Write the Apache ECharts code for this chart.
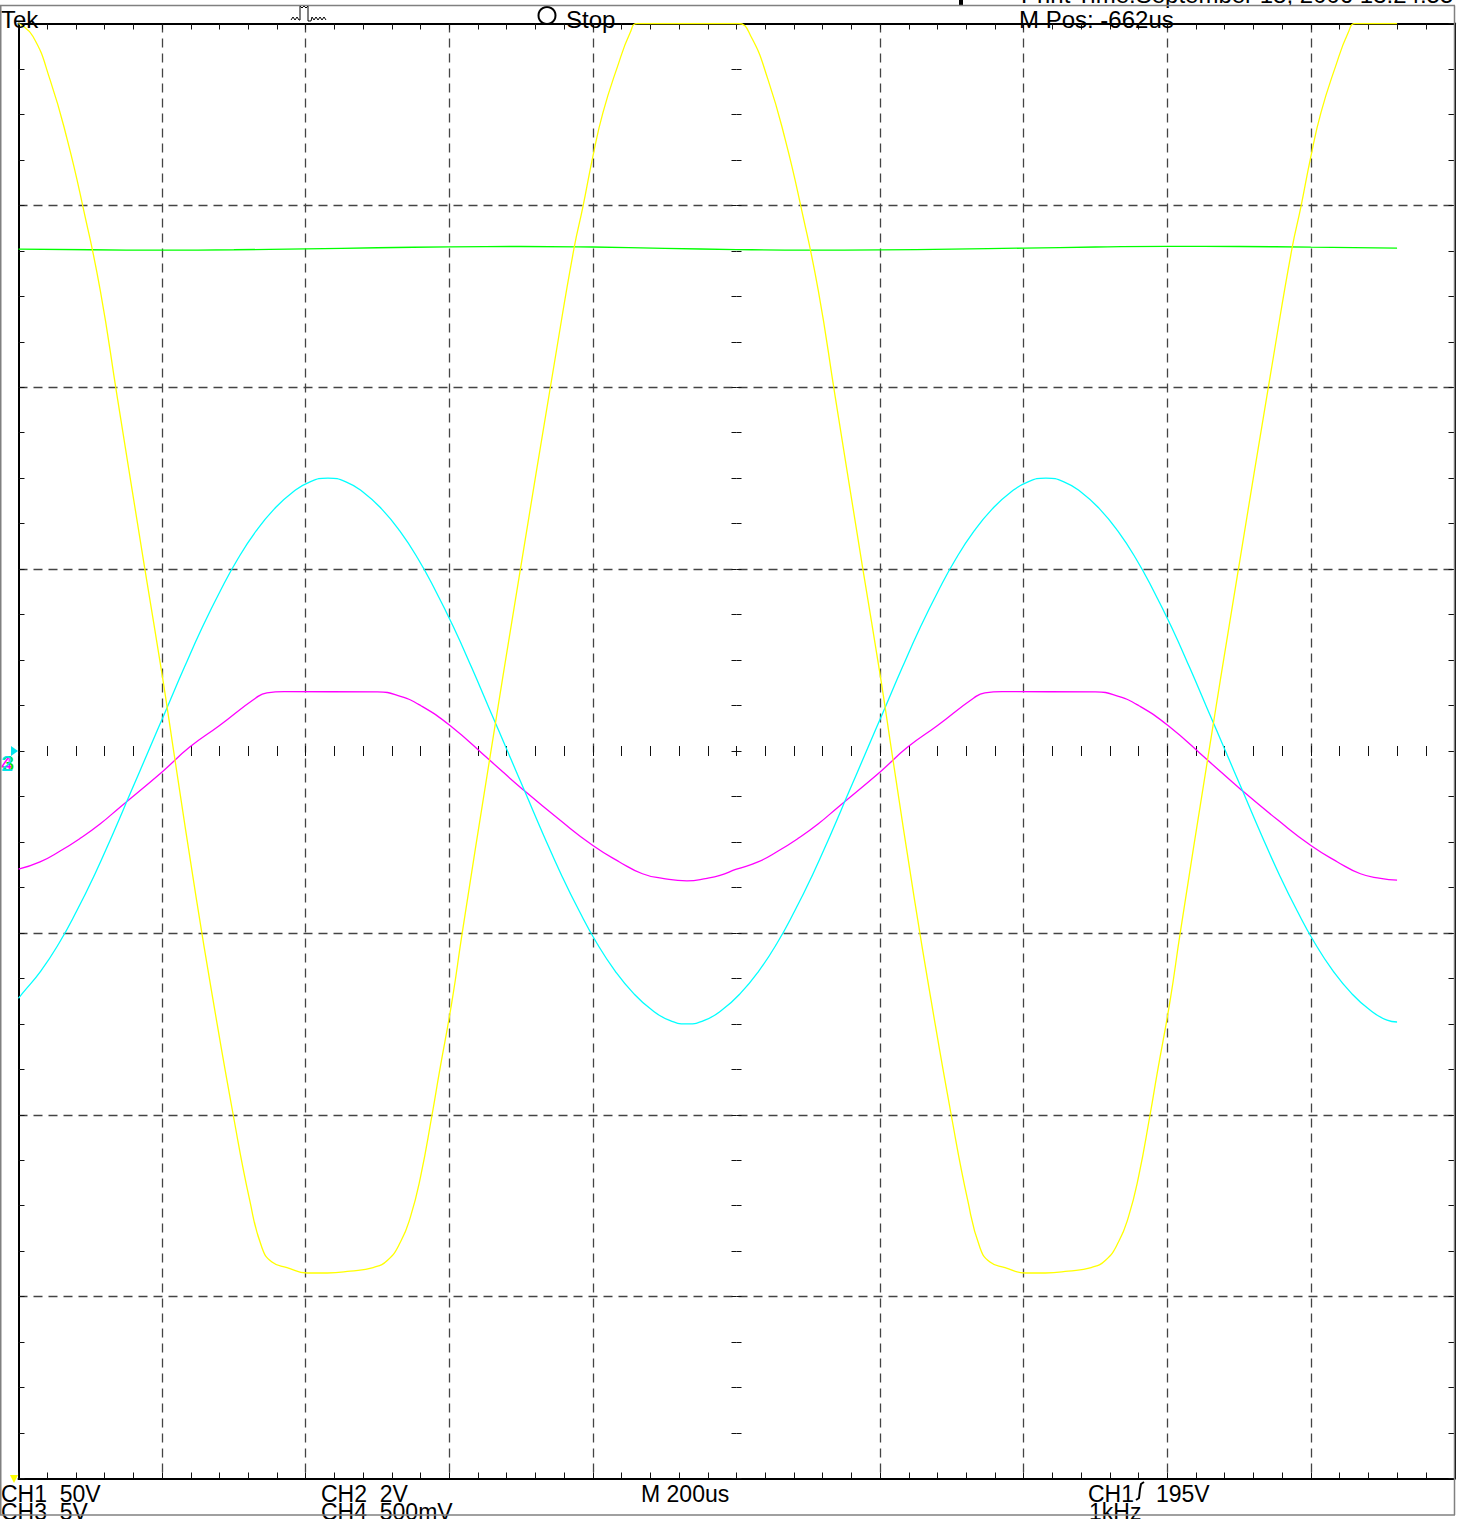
<!DOCTYPE html>
<html>
<head>
<meta charset="utf-8">
<script src="https://cdn.jsdelivr.net/npm/echarts@6/dist/echarts.min.js"></script>
<style>
html,body{margin:0;padding:0;background:#fff;}
#chart{width:1460px;height:1519px;}
</style>
</head>
<body>
<div id="chart"></div>
<script>
// ---------------- DATA (time in µs, amplitude in screen divisions) ----------------
const timeMin = 0, timeMax = 2000, timeStep = 200;   // 200 us / div, 10 div
const divMin = -4, divMax = 4, divStep = 1;           // 8 vertical divisions

const ch1Yellow = [
  [0,4.00],[20,3.93],[44,3.69],[68,3.36],[91,2.97],[114,2.53],[137,1.96],[176,1.00],
  [200,0.42],[218,-0.05],[248,-0.82],[271,-1.37],[299,-2.00],[322,-2.47],[339,-2.73],
  [353,-2.81],[374,-2.84],[402,-2.87],[430,-2.87],[462,-2.86],[494,-2.84],[514,-2.80],
  [532,-2.70],[546,-2.56],[560,-2.34],[576,-2.00],[586,-1.77],[604,-1.37],[618,-1.00],
  [656,-0.05],[692,0.83],[750,2.22],[774,2.77],[786,2.99],[800,3.27],[814,3.51],
  [834,3.76],[852,3.95],[862,4.00],[1002,4.00],[1020,3.93],[1044,3.69],[1068,3.36],
  [1091,2.97],[1114,2.53],[1137,1.96],[1176,1.00],[1200,0.42],[1218,-0.05],[1248,-0.82],
  [1271,-1.37],[1299,-2.00],[1322,-2.47],[1339,-2.73],[1353,-2.81],[1374,-2.84],
  [1402,-2.87],[1430,-2.87],[1462,-2.86],[1494,-2.84],[1514,-2.80],[1532,-2.70],
  [1546,-2.56],[1560,-2.34],[1576,-2.00],[1586,-1.77],[1604,-1.37],[1618,-1.00],
  [1656,-0.05],[1692,0.83],[1750,2.22],[1774,2.77],[1786,2.99],[1800,3.27],[1814,3.51],
  [1834,3.76],[1852,3.95],[1862,4.00],[1920,4.00]
];

const ch2Cyan = [
  [0,-1.36],[6,-1.33],[31,-1.21],[56,-1.06],[81,-0.88],[106,-0.68],[131,-0.46],[156,-0.23],
  [181,0.00],[206,0.23],[231,0.46],[256,0.68],[281,0.88],[306,1.06],[331,1.21],[356,1.33],
  [381,1.42],[406,1.48],[431,1.50],[456,1.48],[481,1.42],[506,1.33],[531,1.21],[556,1.06],
  [581,0.88],[606,0.68],[631,0.46],[656,0.23],[681,0.00],[706,-0.23],[731,-0.46],[756,-0.68],
  [781,-0.88],[806,-1.06],[831,-1.21],[856,-1.33],[881,-1.42],[906,-1.48],[931,-1.50],
  [956,-1.48],[981,-1.42],[1006,-1.33],[1031,-1.21],[1056,-1.06],[1081,-0.88],[1106,-0.68],
  [1131,-0.46],[1156,-0.23],[1181,0.00],[1206,0.23],[1231,0.46],[1256,0.68],[1281,0.88],
  [1306,1.06],[1331,1.21],[1356,1.33],[1381,1.42],[1406,1.48],[1431,1.50],[1456,1.48],
  [1481,1.42],[1506,1.33],[1531,1.21],[1556,1.06],[1581,0.88],[1606,0.68],[1631,0.46],
  [1656,0.23],[1681,0.00],[1706,-0.23],[1731,-0.46],[1756,-0.68],[1781,-0.88],[1806,-1.06],
  [1831,-1.21],[1856,-1.33],[1881,-1.42],[1906,-1.48],[1920,-1.49]
];

const ch3Green = [
  [0,2.760],[100,2.756],[200,2.754],[300,2.756],[400,2.761],[500,2.767],[600,2.772],
  [700,2.774],[800,2.771],[900,2.764],[1000,2.757],[1100,2.754],[1200,2.755],
  [1300,2.759],[1400,2.765],[1500,2.771],[1600,2.775],[1700,2.774],[1800,2.770],
  [1920,2.765]
];

const ch4Magenta = [
  [0,-0.65],[30,-0.61],[58,-0.55],[86,-0.48],[114,-0.40],[141,-0.31],[200,-0.115],
  [238,0.02],[280,0.14],[330,0.29],[346,0.32],[370,0.326],[500,0.325],[532,0.30],
  [560,0.25],[601,0.14],[656,-0.05],[702,-0.21],[754,-0.38],[800,-0.52],[837,-0.61],
  [869,-0.675],[897,-0.70],[931,-0.714],[959,-0.70],[977,-0.684],[1000,-0.65],
  [1030,-0.61],[1058,-0.55],[1086,-0.48],[1114,-0.40],[1141,-0.31],[1200,-0.115],
  [1238,0.02],[1280,0.14],[1330,0.29],[1346,0.32],[1370,0.326],[1500,0.325],[1532,0.30],
  [1560,0.25],[1601,0.14],[1656,-0.05],[1702,-0.21],[1754,-0.38],[1800,-0.52],
  [1837,-0.61],[1869,-0.675],[1897,-0.70],[1920,-0.71]
];

const headerTexts = ['Tek', 'Stop', 'M Pos: -662us', 'Print Time:September 18, 2006 13:24:55'];
const footerTexts = ['CH1  50V', 'CH3  5V', 'CH2  2V', 'CH4  500mV', 'M 200us', 'CH1', '195V', '1kHz'];
const markerTexts = ['4', '3', '2'];

// ---------------- LAYOUT / STYLE ----------------
const G = {left: 18.5, top: 23.5, width: 1436, height: 1455};
const NONE = 'rgba(0,0,0,0)';
const DASH = '#444';
const xSplitColors = [NONE, DASH, DASH, DASH, DASH, NONE, DASH, DASH, DASH, DASH, NONE];
const ySplitColors = [NONE, DASH, DASH, DASH, NONE, DASH, DASH, DASH, NONE];
const FONT = '"Liberation Sans", Arial, sans-serif';

function axis(kind, opts) {
  const isX = kind === 'x';
  return {
    type: 'value',
    min: isX ? timeMin : divMin,
    max: isX ? timeMax : divMax,
    interval: isX ? timeStep : divStep,
    position: opts.position,
    offset: opts.offset || 0,
    axisLabel: {show: false},
    axisLine: {show: !!opts.line, onZero: false, lineStyle: {color: '#000', width: 2}},
    axisTick: {show: true, inside: opts.inside, length: opts.len, lineStyle: {color: '#111', width: 1}},
    minorTick: {show: true, splitNumber: isX ? 5 : 4, length: opts.len, lineStyle: {color: '#111', width: 1}},
    splitLine: opts.split ? {show: true, lineStyle: {color: isX ? xSplitColors : ySplitColors, type: [9, 6], width: 1.3}} : {show: false}
  };
}

const chart = echarts.init(document.getElementById('chart'), null, {renderer: 'svg', width: 1460, height: 1519});

const txt = (text, x, y, size, color) => ({
  type: 'text', x: x, y: y, z: 100,
  style: {text: text, font: size + 'px ' + FONT, fill: color || '#000', verticalAlign: 'middle', align: 'left'}
});
const seg = (x1, y1, x2, y2, color, w) => ({
  type: 'line', z: 101, shape: {x1, y1, x2, y2}, style: {stroke: color, lineWidth: w}
});

const graphics = [
  // header texts
  txt(headerTexts[0], 1, 19.7, 24),
  txt(headerTexts[1], 566, 19.5, 24),
  txt(headerTexts[2], 1019, 19.7, 24),
  txt(headerTexts[3], 1021, -5.5, 24),
  // stop circle
  {type: 'circle', z: 100, shape: {cx: 547, cy: 15.5, r: 8.5}, style: {fill: 'none', stroke: '#000', lineWidth: 2}},
  // trigger icon
  {type: 'polyline', z: 100, shape: {points: [[291,20],[293,17],[295,20],[297,17],[299,20],[300,20],[300,6],[302,8],[304,6],[306,8],[308,6],[308,21],[311,21],[312,17],[314,20],[316,17],[318,20],[320,17],[322,20],[324,17],[326,20]]}, style: {fill: 'none', stroke: '#000', lineWidth: 1}},
  // small bar at top
  {type: 'rect', z: 100, shape: {x: 959, y: 0, width: 4, height: 5}, style: {fill: '#000'}},
  // footer texts
  txt(footerTexts[0], 1, 1494, 23),
  txt(footerTexts[1], 1, 1512, 23),
  txt(footerTexts[2], 321, 1494, 23),
  txt(footerTexts[3], 321, 1512, 23),
  txt(footerTexts[4], 641, 1494, 23),
  txt(footerTexts[5], 1088, 1494, 23),
  txt(footerTexts[6], 1156, 1494, 23),
  txt(footerTexts[7], 1089, 1512, 23),
  // rising-edge symbol
  {type: 'polyline', z: 100, shape: {points: [[1136,1500],[1139,1498],[1140,1489],[1141,1484],[1144,1482]]}, style: {fill: 'none', stroke: '#000', lineWidth: 2}},
  // channel markers on the left
  txt(markerTexts[0], 1, 763, 22, '#ff00ff'),
  txt(markerTexts[1], 2, 763, 22, '#00dd00'),
  txt(markerTexts[2], 1, 763, 22, '#00e5ee'),
  {type: 'polygon', z: 100, shape: {points: [[11,746],[18,751],[11,756]]}, style: {fill: '#00e5ee'}},
  // CH1 ground marker (below screen)
  {type: 'polygon', z: 100, shape: {points: [[10,1475],[18,1475],[14,1483]]}, style: {fill: '#ffff00'}},
  // outer gray frame
  seg(0, 5.5, 1455, 5.5, '#808080', 1.5),
  seg(0.75, 5.5, 0.75, 1515, '#808080', 1.5),
  seg(0, 1515, 1455, 1515, '#808080', 1.5),
  seg(1454.5, 5.5, 1454.5, 1515, '#808080', 1.5)
];

const lineSeries = (name, data, color, z) => ({
  name, type: 'line', data, showSymbol: false, symbol: 'none', smooth: 0.5,
  lineStyle: {color: color, width: 1.3}, itemStyle: {color: color}, z: z,
  emphasis: {disabled: true}, animation: false
});

chart.setOption({
  animation: false,
  backgroundColor: '#fff',
  grid: {left: G.left, top: G.top, width: G.width, height: G.height, containLabel: false, outerBoundsMode: 'none'},
  xAxis: [
    axis('x', {position: 'bottom', line: true, inside: true, len: 6, split: true}),
    axis('x', {position: 'top', line: true, inside: true, len: 6}),
    axis('x', {position: 'bottom', offset: -727.5, inside: true, len: 5}),
    axis('x', {position: 'bottom', offset: -727.5, inside: false, len: 5})
  ],
  yAxis: [
    axis('y', {position: 'left', line: true, inside: true, len: 6, split: true}),
    axis('y', {position: 'right', line: true, inside: true, len: 6}),
    axis('y', {position: 'left', offset: -718, inside: true, len: 5}),
    axis('y', {position: 'left', offset: -718, inside: false, len: 5})
  ],
  series: [
    lineSeries('CH3', ch3Green, '#00ff00', 3),
    lineSeries('CH4', ch4Magenta, '#ff00ff', 4),
    lineSeries('CH2', ch2Cyan, '#00ffff', 5),
    lineSeries('CH1', ch1Yellow, '#ffff00', 6)
  ],
  graphic: graphics
});
</script>
</body>
</html>
